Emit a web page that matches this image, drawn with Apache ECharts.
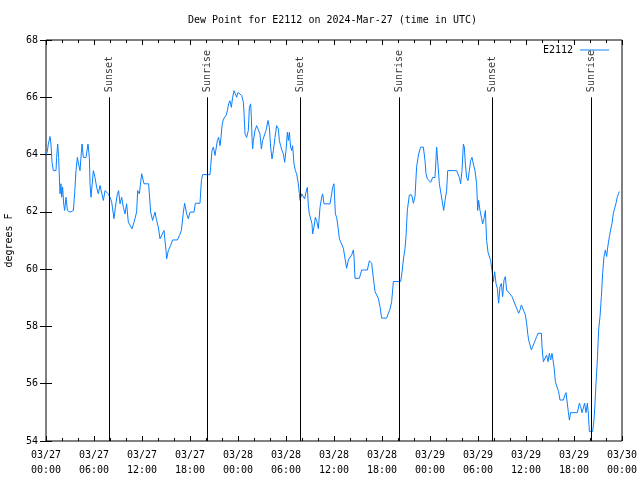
<!DOCTYPE html>
<html>
<head>
<meta charset="utf-8">
<script src="https://cdn.jsdelivr.net/npm/echarts@6/dist/echarts.min.js"></script>
<style>html,body{margin:0;padding:0;background:#fff;}#c{width:640px;height:480px;}</style>
</head>
<body>
<div id="c"></div>
<script>
// hours since 2024-03-27 00:00 UTC
var hours = [0.05,0.17,0.29,0.5,0.625,0.75,0.92,1.25,1.33,1.46,1.58,1.75,1.875,1.96,2.08,2.21,2.33,2.5,2.67,3.0,3.42,3.58,3.75,3.92,4.08,4.25,4.5,4.67,5.0,5.25,5.42,5.5,5.625,5.83,5.92,6.125,6.33,6.54,6.75,6.96,7.17,7.375,7.58,7.79,8.0,8.21,8.5,8.67,8.92,9.08,9.25,9.46,9.67,9.875,10.08,10.29,10.5,10.75,11.0,11.33,11.46,11.67,11.96,12.25,12.83,13.08,13.33,13.625,13.83,14.04,14.25,14.5,14.75,15.0,15.08,15.29,15.58,15.83,16.42,16.67,16.92,17.17,17.33,17.58,17.79,18.0,18.5,18.67,19.25,19.42,19.58,20.5,20.58,20.75,20.92,21.125,21.25,21.42,21.58,21.75,21.875,22.0,22.17,22.33,22.5,22.67,22.83,23.0,23.17,23.33,23.5,23.67,23.83,24.0,24.25,24.46,24.67,24.75,24.875,25.08,25.29,25.42,25.58,25.67,25.75,25.83,25.92,26.125,26.33,26.54,26.75,26.92,27.08,27.25,27.5,27.75,27.92,28.08,28.25,28.42,28.625,28.83,29.04,29.17,29.33,29.5,29.67,29.83,30.0,30.17,30.29,30.42,30.58,30.71,30.83,31.0,31.17,31.33,31.54,31.67,31.75,31.96,32.17,32.33,32.5,32.67,32.79,32.92,33.08,33.25,33.33,33.5,33.67,33.83,34.04,34.25,34.46,34.58,34.75,35.5,35.71,35.83,36.0,36.17,36.33,36.5,36.67,36.8,37.17,37.375,37.58,37.79,38.0,38.21,38.42,38.5,38.625,39.17,39.46,40.17,40.42,40.71,40.92,41.125,41.33,41.54,41.75,41.96,42.58,42.79,43.0,43.21,43.42,44.33,44.46,44.67,44.875,45.0,45.17,45.42,45.71,45.92,46.125,46.33,46.58,46.83,47.0,47.17,47.375,47.5,47.67,47.92,48.08,48.33,48.625,48.83,48.96,49.17,49.375,49.58,49.71,49.875,50.08,50.21,51.33,51.67,51.83,52.0,52.17,52.29,52.42,52.58,52.75,52.92,53.08,53.25,53.42,53.625,53.83,53.96,54.08,54.25,54.46,54.58,54.75,54.92,55.08,55.25,55.58,55.75,55.92,56.08,56.25,56.42,56.58,56.75,56.92,57.08,57.25,57.42,57.58,57.92,58.25,58.42,58.75,58.92,59.08,59.25,59.42,59.75,59.92,60.08,60.21,60.33,60.5,60.67,60.83,61.0,61.17,61.33,61.5,61.92,62.0,62.17,62.375,62.58,62.75,62.92,63.08,63.25,63.42,63.5,63.67,63.92,64.08,64.25,64.67,64.875,65.0,65.17,65.29,65.42,65.58,66.42,66.67,66.83,67.0,67.17,67.33,67.5,67.67,67.79,67.92,68.33,68.5,68.625,68.75,68.92,69.08,69.25,69.42,69.58,69.75,69.92,70.08,70.25,70.42,70.58,70.75,70.92,71.125,71.25,71.42,71.58,71.67];
var dewF = [64.0,64.12,64.37,64.63,64.37,63.73,63.44,63.44,63.9,64.37,63.9,62.63,62.98,62.51,62.86,62.28,62.05,62.51,62.05,61.99,62.05,62.63,63.44,63.9,63.67,63.44,64.37,63.9,63.9,64.37,63.9,62.98,62.51,62.51,63.44,63.2,62.86,62.63,62.92,62.92,62.4,62.74,62.69,62.63,62.51,62.34,61.76,62.16,62.63,62.74,62.28,62.51,62.16,61.93,62.28,61.64,61.58,61.41,61.64,61.99,62.74,62.63,63.33,62.98,62.98,61.99,61.7,61.99,61.7,61.47,61.06,61.06,61.35,60.65,60.36,60.65,60.83,61.02,61.02,61.17,61.35,61.99,62.3,61.93,61.76,61.99,61.99,62.3,62.3,63.09,63.3,63.3,63.56,64.14,64.26,63.97,63.97,64.49,64.6,64.31,64.6,65.01,65.24,65.19,65.36,65.53,65.77,65.88,65.65,66.0,66.23,66.12,66.0,66.17,66.23,66.06,65.83,65.48,64.72,64.6,64.84,65.65,65.77,65.3,64.6,64.2,64.49,64.84,65.01,65.07,64.72,64.2,64.49,64.49,64.84,65.19,64.95,64.26,63.85,64.14,64.6,65.01,64.9,64.49,64.31,64.14,64.02,63.73,64.14,64.78,64.49,64.78,64.26,64.14,64.31,63.67,63.44,63.33,62.98,62.63,62.4,62.63,62.69,62.45,62.69,62.86,62.22,61.93,61.99,61.58,61.23,61.47,61.81,61.7,61.41,62.16,62.51,62.63,62.28,62.28,62.63,62.86,62.98,61.93,61.81,61.47,61.06,61.12,60.73,60.73,60.03,60.32,60.38,60.5,60.67,60.44,59.68,59.68,59.97,59.97,60.29,60.21,59.68,59.22,59.1,58.98,58.69,58.29,58.29,58.46,58.6,58.87,59.57,59.57,59.8,60.32,60.73,61.14,62.07,62.59,62.59,62.3,62.53,63.58,64.02,64.26,64.31,64.26,63.79,63.33,63.15,63.09,63.03,63.2,63.2,64.26,63.79,62.98,62.63,62.28,62.05,62.4,62.74,63.44,63.44,63.2,62.98,63.44,64.37,64.26,63.67,63.2,63.09,63.44,63.79,63.9,63.67,63.44,62.98,62.05,62.4,62.05,61.76,61.58,61.76,62.05,61.0,60.59,60.3,59.95,59.56,59.91,59.5,59.33,58.81,59.39,59.5,59.04,59.62,59.74,59.27,59.16,59.04,58.92,58.69,58.57,58.46,58.57,58.75,58.52,58.4,58.11,57.76,57.53,57.35,57.18,57.29,57.41,57.53,57.64,57.76,57.76,57.29,56.77,56.77,57.0,56.77,57.06,56.83,57.06,57.06,56.6,56.07,56.07,55.72,55.43,55.43,55.61,55.69,55.69,55.02,54.73,54.99,54.99,55.32,55.2,54.99,55.02,55.32,54.99,55.32,54.97,54.33,54.33,54.73,55.32,56.01,56.83,57.88,58.34,59.04,59.85,60.44,60.67,60.44,60.84,61.13,61.37,61.6,61.95,62.01,62.3,62.53,62.65,62.71];
var sunHours = [7.92, 20.17, 31.75, 44.17, 55.75, 68.125];
var sunLabels = ['Sunset', 'Sunrise', 'Sunset', 'Sunrise', 'Sunset', 'Sunrise'];
var xTickDays = ['03/27', '03/28', '03/29', '03/30'];
var seriesName = 'E2112';

var FONT = 'DejaVu Sans Mono';
var lineData = hours.map(function (h, i) { return [h, dewF[i]]; });
var sunLineData = sunHours.map(function (h) { return [{ coord: [h, 54] }, { coord: [h, 66] }]; });
var sunLabelData = sunHours.map(function (h, i) { return [h, 66.18, sunLabels[i]]; });

function fmtX(v) {
  var d = Math.floor(v / 24 + 1e-9);
  var hh = Math.round(v - d * 24);
  return xTickDays[d] + '\n' + (hh < 10 ? '0' : '') + hh + ':00';
}

var chart = echarts.init(document.getElementById('c'), null, { renderer: 'canvas' });
chart.setOption({
  animation: false,
  backgroundColor: '#ffffff',
  textStyle: { fontFamily: FONT },
  title: {
    text: 'Dew Point for E2112 on 2024-Mar-27 (time in UTC)',
    left: 188, top: 15, padding: 0,
    textStyle: { fontFamily: FONT, fontSize: 10, fontWeight: 'normal', color: '#000' }
  },
  legend: {
    right: 26, top: 40,
    align: 'right',
    icon: 'rect', itemWidth: 29, itemHeight: 1, itemGap: 0,
    textStyle: { fontFamily: FONT, fontSize: 10, color: '#000', padding: [0, 2, 0, 0] },
    data: [seriesName]
  },
  grid: { left: 46, right: 18, top: 40, bottom: 39, outerBoundsMode: 'none', containLabel: false, show: true, borderColor: '#000', borderWidth: 1, backgroundColor: 'transparent' },
  xAxis: [{
    type: 'value', min: 0, max: 72, interval: 6,
    axisLine: { show: false },
    axisTick: { inside: true, length: 5, lineStyle: { color: '#000' } },
    minorTick: { show: true, splitNumber: 3, length: 3, lineStyle: { color: '#000' } },
    splitLine: { show: false },
    axisLabel: { formatter: fmtX, fontFamily: FONT, fontSize: 10, color: '#000', margin: 7, lineHeight: 15 }
  }, {
    type: 'value', min: 0, max: 72, interval: 6, position: 'top',
    axisLine: { show: false },
    axisTick: { inside: true, length: 5, lineStyle: { color: '#000' } },
    minorTick: { show: true, splitNumber: 3, length: 3, lineStyle: { color: '#000' } },
    splitLine: { show: false },
    axisLabel: { show: false }
  }],
  yAxis: [{
    type: 'value', min: 54, max: 68, interval: 2,
    name: 'degrees F', nameLocation: 'middle', nameGap: 32, nameRotate: 90,
    nameTextStyle: { fontFamily: FONT, fontSize: 10, color: '#000' },
    axisLine: { show: false },
    axisTick: { show: true, inside: true, length: 6, lineStyle: { color: '#000' } },
    splitLine: { show: false },
    axisLabel: { fontFamily: FONT, fontSize: 10, color: '#000', margin: 8 }
  }, {
    type: 'value', min: 54, max: 68, interval: 2, position: 'right',
    axisLine: { show: false },
    axisTick: { show: true, inside: true, length: 6, lineStyle: { color: '#000' } },
    splitLine: { show: false },
    axisLabel: { show: false }
  }],
  series: [{
    name: seriesName,
    type: 'line',
    data: lineData,
    showSymbol: false,
    symbol: 'none',
    color: '#0a80ff',
    lineStyle: { width: 1, color: '#0a80ff' },
    z: 3,
    markLine: {
      silent: true,
      symbol: 'none',
      label: { show: false },
      lineStyle: { color: '#000', width: 1, type: 'solid' },
      data: sunLineData
    }
  }, {
    name: 'sunlabels',
    type: 'scatter',
    data: sunLabelData,
    symbolSize: 0,
    silent: true,
    label: {
      show: true,
      position: [0, 0],
      rotate: 90,
      align: 'left',
      verticalAlign: 'middle',
      formatter: function (p) { return p.data[2]; },
      fontFamily: FONT, fontSize: 10, color: '#000'
    },
    z: 4
  }]
});
</script>
</body>
</html>
